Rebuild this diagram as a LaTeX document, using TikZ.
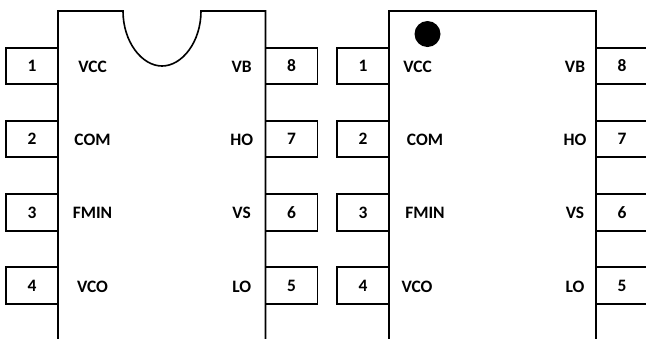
\documentclass[tikz,border=0pt]{standalone}
\usepackage{fontspec}
\setmainfont{Carlito}
\tikzset{
  pinbox/.style={draw, line width=1.15pt, minimum width=52*.025cm, minimum height=36.5*.025cm, inner sep=0pt, font=\fontsize{12.4pt}{14pt}\selectfont\bfseries},
  pinlabel/.style={inner sep=0pt, font=\fontsize{12.4pt}{14pt}\selectfont\bfseries},
  chipline/.style={line width=1.15pt}
}
\begin{document}
\begin{tikzpicture}[x=.025cm, y=-.025cm]
    \useasboundingbox (0, 0) rectangle (646, 338);
    \clip (0, 0) rectangle (646, 338);
    %chip with notch
    \draw[chipline](58, 345) to (58, 11) to (123, 11) .. controls (123, 42) and (142, 66) .. (162, 66) .. controls (182, 66) and (201, 42) .. (201, 11) to (265.5, 11) to (265.5, 345);
    \node[pinbox] (notch1) at (32, 66){1};
    \node[pinbox] (notch2) at (32, 139){2};
    \node[pinbox] (notch3) at (32, 212.5){3};
    \node[pinbox] (notch4) at (32, 285.5){4};
    \node[pinbox] (notch8) at (291.5, 66){8};
    \node[pinbox] (notch7) at (291.5, 139){7};
    \node[pinbox] (notch6) at (291.5, 212.5){6};
    \node[pinbox] (notch5) at (291.5, 285.5){5};
    \node[pinlabel] (notchvcc) at (92.5, 66.5){VCC};
    \node[pinlabel] (notchcom) at (92.5, 139.5){COM};
    \node[pinlabel] (notchfmin) at (92.5, 212.5){FMIN};
    \node[pinlabel] (notchvco) at (92.5, 286.5){VCO};
    \node[pinlabel] (notchvb) at (241.7, 66.5){VB};
    \node[pinlabel] (notchho) at (241.7, 139.5){HO};
    \node[pinlabel] (notchvs) at (241.7, 212.5){VS};
    \node[pinlabel] (notchlo) at (241.7, 286.5){LO};
    %chip with dot
    \draw[chipline](388.7, 345) to (388.7, 11) to (596, 11) to (596, 345);
    \draw[line width=1.5pt](531, 11) to (551, 11);
    \fill (427.5, 34) circle (13);
    \node[pinbox] (dot1) at (363, 66){1};
    \node[pinbox] (dot2) at (363, 139){2};
    \node[pinbox] (dot3) at (363, 212.5){3};
    \node[pinbox] (dot4) at (363, 285.5){4};
    \node[pinbox] (dot8) at (622, 66){8};
    \node[pinbox] (dot7) at (622, 139){7};
    \node[pinbox] (dot6) at (622, 212.5){6};
    \node[pinbox] (dot5) at (622, 285.5){5};
    \node[pinlabel] (dotvcc) at (417.5, 66.5){VCC};
    \node[pinlabel] (dotcom) at (425, 139.5){COM};
    \node[pinlabel] (dotfmin) at (425, 212.5){FMIN};
    \node[pinlabel] (dotvco) at (417, 286.5){VCO};
    \node[pinlabel] (dotvb) at (575, 66.5){VB};
    \node[pinlabel] (dotho) at (575, 139.5){HO};
    \node[pinlabel] (dotvs) at (575, 212.5){VS};
    \node[pinlabel] (dotlo) at (575, 286.5){LO};
\end{tikzpicture}
\end{document}
